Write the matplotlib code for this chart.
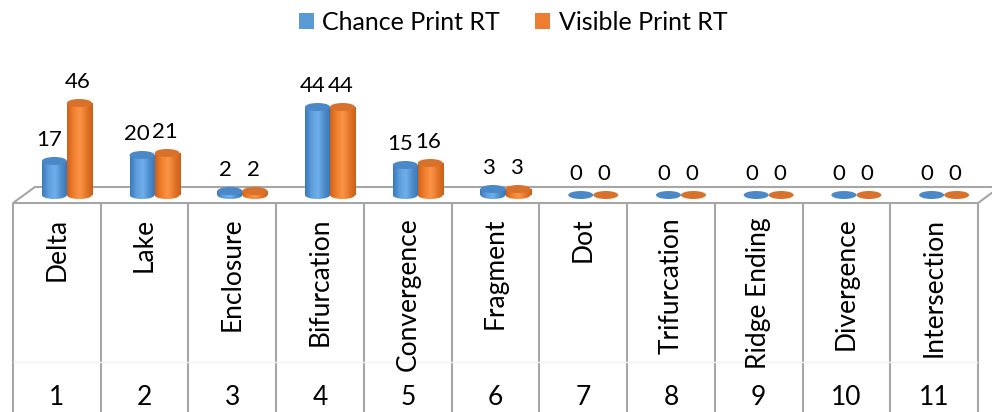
import numpy as np
import matplotlib.pyplot as plt
from matplotlib.patches import Ellipse, Polygon, Patch
from matplotlib.colors import LinearSegmentedColormap

plt.rcParams['font.family'] = ['Lato', 'DejaVu Sans']

# data
categories = ['Delta', 'Lake', 'Enclosure', 'Bifurcation', 'Convergence', 'Fragment',
              'Dot', 'Trifurcation', 'Ridge Ending', 'Divergence', 'Intersection']
col_numbers = ['1', '2', '3', '4', '5', '6', '7', '8', '9', '10', '11']
chance = [17, 20, 2, 44, 15, 3, 0, 0, 0, 0, 0]
visible = [46, 21, 2, 44, 16, 3, 0, 0, 0, 0, 0]
series_names = ['Chance Print RT', 'Visible Print RT']

W, H = 992, 412
FS = 19
GRID = '#a6a6a6'


def px_box(x0, y0, x1, y1):
    # pixel box (top-left origin) -> figure fraction rect
    return [x0 / W, 1 - y1 / H, (x1 - x0) / W, (y1 - y0) / H]


fig = plt.figure(figsize=(W / 100, H / 100), dpi=100)

# chart area: x in category units, y in value units (2 px per unit)
ax = fig.add_axes(px_box(13, 40, 978, 212))
ax.axis('off')

bw = 0.285          # cylinder width
eh = 4.0            # ellipse height in value units
shift = 0.114       # 3d depth offset of the pair
dx = 0.25           # floor depth offset
x = np.arange(len(categories))

# floor
floor = Polygon([(-0.5, -4), (10.5, -4), (10.5 + dx, 4), (-0.5 + dx, 4)],
                closed=True, facecolor='white', edgecolor=GRID, lw=1.5,
                clip_on=False, zorder=1)
ax.add_patch(floor)

styles = [
    dict(cmap=LinearSegmentedColormap.from_list('b', ['#3a78ba', '#5d9edc', '#6fb0ec', '#4d8ccb', '#3b74b0']),
         top='#4a88c8', legend='#5b9bd5', lab_dx=-0.055),
    dict(cmap=LinearSegmentedColormap.from_list('o', ['#d0601a', '#f0802e', '#fb9448', '#e47628', '#c86018']),
         top='#d8722a', legend='#ed7d31', lab_dx=-0.02),
]
grad = np.linspace(0, 1, 128).reshape(1, -1)

for k, vals in enumerate([chance, visible]):
    st = styles[k]
    xc = x + shift + (k - 0.5) * bw
    for xi, v in zip(xc, vals):
        x0, x1 = xi - bw / 2, xi + bw / 2
        if v > 0:
            bottom = Ellipse((xi, 0), bw, eh, transform=ax.transData)
            im = ax.imshow(grad, cmap=st['cmap'], extent=[x0, x1, -eh / 2, 0],
                           aspect='auto', zorder=3 + k)
            im.set_clip_path(bottom)
            ax.imshow(grad, cmap=st['cmap'], extent=[x0, x1, 0, v],
                      aspect='auto', zorder=3 + k)
        ax.add_patch(Ellipse((xi, v), bw, eh, facecolor=st['top'],
                             edgecolor='none', zorder=3 + k))
        ax.annotate(str(v), (xi + st['lab_dx'], v), xytext=(0, 11), textcoords='offset points',
                    ha='center', va='baseline', fontsize=16, color='black')

ax.set_xlim(-0.5, 10.5)
ax.set_ylim(-8.5, 77.5)

# data table below
tab = fig.add_axes(px_box(13, 203, 978, 412))
tab.axis('off')
tab.set_xlim(-0.5, 10.5)
tab.set_ylim(0, 1)
tab.hlines(0.239, -0.5, 10.5, colors='#f2f2f2', lw=1, zorder=3)
tab.vlines(np.arange(len(categories) + 1) - 0.5, 0, 1, colors=GRID, lw=1.5,
           clip_on=False, zorder=2)
for i, (name, num) in enumerate(zip(categories, col_numbers)):
    tab.text(i, 0.93, name, rotation=90, ha='center', va='top', fontsize=FS)
    tab.text(i, 0.033, num, ha='center', va='baseline', fontsize=FS)

handles = [Patch(facecolor=s['legend']) for s in styles]
fig.legend(handles, series_names, loc='center', bbox_to_anchor=(513 / W, 1 - 22 / H),
           ncol=2, frameon=False, fontsize=18, handlelength=0.6, handleheight=0.6,
           handletextpad=0.35, columnspacing=1.4)

fig.savefig('out.png', dpi=100)
